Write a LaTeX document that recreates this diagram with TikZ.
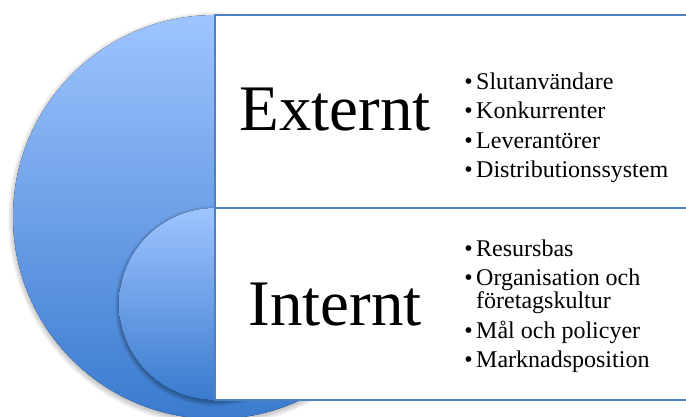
\documentclass[tikz,border=0pt]{standalone}
\usepackage{fontspec}
\setmainfont{Liberation Serif}
\definecolor{kant}{RGB}{79,129,189}
\definecolor{ljus}{RGB}{158,197,255}
\definecolor{mork}{RGB}{58,122,206}
\tikzset{
  stor/.style={anchor=base,inner sep=0pt,font=\fontsize{65}{65}\selectfont},
  punkt/.style={anchor=base west,inner sep=0pt,font=\fontsize{24}{24}\selectfont},
  ruta/.style={draw=kant,line width=1.2pt,fill=white}
}
\newcommand{\kula}{\llap{\textbullet\hspace{3.5pt}}}
\begin{document}
\begin{tikzpicture}[x=1pt,y=-1pt]

        \clip (0,0) rectangle (686,416);
        \fill[white] (0,0) rectangle (686,416);

        \foreach \i in {1,...,6}
          \fill[black,opacity=0.035] (215,219) circle [radius=201+\i];
        \fill[top color=ljus,bottom color=mork] (215,217) circle [radius=202];

        \foreach \i in {1,...,5}
          \fill[black,opacity=0.06] (215,306) circle [radius=95+\i];
        \fill[top color=ljus,bottom color=mork] (215,304) circle [radius=96];

        \draw[ruta] (215,15) rectangle (690,208);
        \draw[ruta] (215,208) rectangle (690,400);

        \begin{scope}[every node/.style={stor}]
          \node (ext) at (335,130) {Externt};
          \node (int) at (335,325) {Internt};
        \end{scope}

        \begin{scope}[every node/.style={punkt}]
          \node (e1) at (476,89)    {\kula Slutanvändare};
          \node (e2) at (476,118.5) {\kula Konkurrenter};
          \node (e3) at (476,148)   {\kula Leverantörer};
          \node (e4) at (476,177)   {\kula Distributionssystem};

          \node (i1) at (476,256) {\kula Resursbas};
          \node (i2) at (476,285) {\kula Organisation och};
          \node (i3) at (476,308) {företagskultur};
          \node (i4) at (476,338) {\kula Mål och policyer};
          \node (i5) at (476,367) {\kula Marknadsposition};
        \end{scope}

      \end{tikzpicture}
\end{document}
